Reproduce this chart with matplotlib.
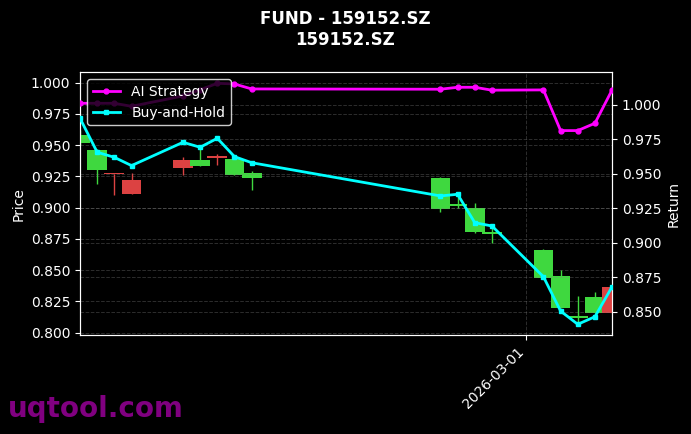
import matplotlib
matplotlib.use("Agg")
import matplotlib.pyplot as plt
import matplotlib.dates as mdates
import pandas as pd
import numpy as np

dates = ["2026-02-03", "2026-02-04", "2026-02-05", "2026-02-06", "2026-02-09",
         "2026-02-10", "2026-02-11", "2026-02-12", "2026-02-13", "2026-02-24",
         "2026-02-25", "2026-02-26", "2026-02-27", "2026-03-02", "2026-03-03",
         "2026-03-04", "2026-03-05", "2026-03-06"]
opens = [0.9520, 0.9302, 0.9270, 0.9222, 0.9382, 0.9336, 0.9402, 0.9262, 0.9235,
         0.8990, 0.9015, 0.8808, 0.8788, 0.8440, 0.8200, 0.8115, 0.8160, 0.8368]
closes = [0.9582, 0.9462, 0.9265, 0.9107, 0.9315, 0.9382, 0.9398, 0.9390, 0.9275,
          0.9240, 0.9030, 0.8995, 0.8800, 0.8662, 0.8453, 0.8133, 0.8283, 0.8160]
highs = [0.9620, 0.9470, 0.9270, 0.9275, 0.9408, 0.9475, 0.9427, 0.9408, 0.9294,
         0.9245, 0.9115, 0.9035, 0.8848, 0.8665, 0.8502, 0.8294, 0.8328, 0.8370]
lows = [0.9500, 0.9187, 0.9102, 0.9105, 0.9262, 0.9334, 0.9342, 0.9260, 0.9142,
        0.8968, 0.8995, 0.8795, 0.8720, 0.8438, 0.8198, 0.8085, 0.8158, 0.8158]
ai_strategy = [1.0012, 1.0012, 1.0012, 0.9990, 1.0065, 1.0110, 1.0157, 1.0152, 1.0116,
               1.0114, 1.0128, 1.0128, 1.0107, 1.0109, 0.9814, 0.9814, 0.9867, 1.0109]
buy_hold = [0.9903, 0.9657, 0.9620, 0.9560, 0.9729, 0.9693, 0.9758, 0.9625, 0.9581,
            0.9340, 0.9352, 0.9146, 0.9122, 0.8754, 0.8505, 0.8409, 0.8464, 0.8681]

x = mdates.date2num(pd.to_datetime(dates))
o = np.array(opens); c = np.array(closes); h = np.array(highs); l = np.array(lows)

fig = plt.figure(figsize=(6.91, 4.34), dpi=100, facecolor="black")
ax = fig.add_axes([0.1158, 0.228, 0.77, 0.6055])
ax.set_facecolor("black")

up_col = "#3fd83f"
dn_col = "#dc4242"
cols = [up_col if cc >= oo else dn_col for oo, cc in zip(o, c)]
body_bottom = np.minimum(o, c)
body_h = np.maximum(np.abs(c - o), 0.0014)
ax.vlines(x, l, h, colors=cols, linewidth=1, zorder=2)
ax.bar(x, body_h, bottom=body_bottom, width=1.15, color=cols, zorder=3)

ax.set_xlim(x[0], x[-1])
ax.set_ylim(0.798, 1.0083)
ax.set_yticks(np.arange(0.800, 1.0001, 0.025))
ax.yaxis.set_major_formatter(matplotlib.ticker.FormatStrFormatter("%.3f"))
ax.xaxis.set_major_locator(mdates.MonthLocator())
ax.xaxis.set_major_formatter(mdates.DateFormatter("%Y-%m-%d"))
plt.setp(ax.get_xticklabels(), rotation=45, ha="right")
ax.set_ylabel("Price", color="white")
ax.tick_params(colors="white")
ax.grid(True, linestyle="--", color="gray", alpha=0.35, linewidth=0.7)
for s in ax.spines.values():
    s.set_color("white")

ax2 = ax.twinx()
ax2.plot(x, ai_strategy, color="#ff00ff", linewidth=2, marker="o", markersize=3.5,
         label="AI Strategy", zorder=4)
ax2.plot(x, buy_hold, color="#00ffff", linewidth=2, marker="s", markersize=3.5,
         label="Buy-and-Hold", zorder=4)
ax2.set_ylim(0.8331, 1.0237)
ax2.set_yticks(np.arange(0.850, 1.0001, 0.025))
ax2.yaxis.set_major_formatter(matplotlib.ticker.FormatStrFormatter("%.3f"))
ax2.set_ylabel("Return", color="white")
ax2.tick_params(colors="white")
ax2.grid(True, linestyle="--", color="gray", alpha=0.35, linewidth=0.7)
for s in ax2.spines.values():
    s.set_color("white")
leg = ax2.legend(loc="upper left", facecolor="black", edgecolor="white",
                 framealpha=0.8, labelcolor="white", fontsize=10)

fig.suptitle("FUND - 159152.SZ\n159152.SZ", color="white", fontsize=12,
             fontweight="bold", y=0.977)
fig.text(0.012, 0.04, "uqtool.com", color="#800080", fontsize=20,
         fontweight="bold")

fig.savefig("out.png", dpi=100, facecolor="black")
